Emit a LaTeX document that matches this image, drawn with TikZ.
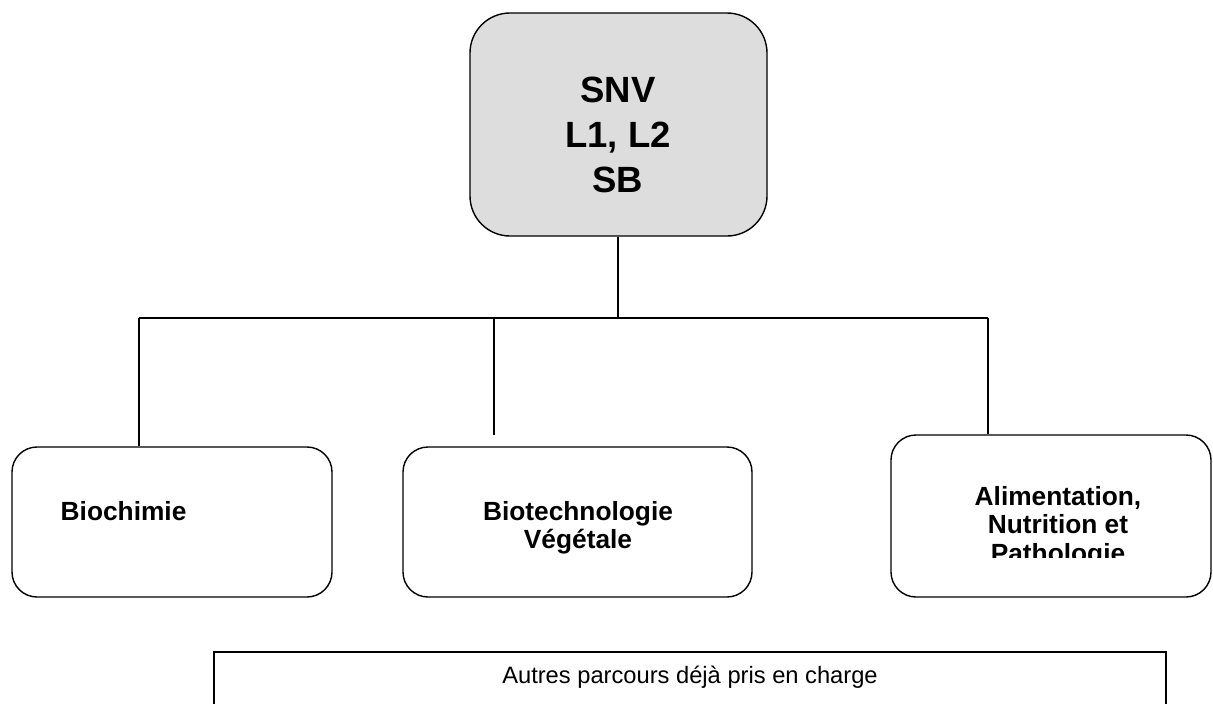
\documentclass[tikz,border=0pt]{standalone}
\usepackage{fontspec}
\setmainfont{Liberation Sans}
\definecolor{boxgray}{HTML}{DDDDDD}
\tikzset{
  rbox/.style={draw=black, line width=1.4pt, rounded corners=#1, inner sep=0pt},
  toptext/.style={font=\fontsize{36.5}{45}\selectfont\bfseries, align=center, inner sep=0pt},
  lbltext/.style={font=\fontsize{26.3}{28.5}\selectfont\bfseries, align=center, inner sep=0pt},
  btmtext/.style={font=\fontsize{23.7}{26}\selectfont, inner sep=0pt},
}
\begin{document}
\begin{tikzpicture}[x=1pt,y=-1pt,line width=1.4pt]
\useasboundingbox (0,0) rectangle (1213,704);
% top box
\node[rbox=40pt, fill=boxgray, minimum width=297pt, minimum height=223pt] (snv) at (618.5,124.5) {};
\node[toptext] (snvt) at (618,135) {SNV\\L1, L2\\SB};
% bottom boxes
\node[rbox=25pt, minimum width=320pt, minimum height=150pt] (b1) at (172,522) {};
\node[lbltext, anchor=base west] (b1t) at (60,520) {Biochimie};
\node[rbox=25pt, minimum width=349pt, minimum height=150pt] (b2) at (577.5,522) {};
\node[lbltext] (b2t) at (578,528) {Biotechnologie\\Végétale};
\node[rbox=25pt, minimum width=320pt, minimum height=162pt] (b3) at (1051,516) {};
\begin{scope}
  \clip (880,420) rectangle (1213,557);
  \node[lbltext] (b3t) at (1058,527) {Alimentation,\\Nutrition et\\Pathologie};
\end{scope}
% connectors
\coordinate (j) at (618,318);
\coordinate (hl) at (139,318);
\coordinate (hm) at (494,318);
\coordinate (hr) at (988,318);
\coordinate (me) at (494,435);
\draw (snv.south -| j) -- (j);
\draw (hl) -- (hr);
\draw (hl) -- (hl |- b1.north);
\draw (hm) -- (me);
\draw (hr) -- (hr |- b3.north);
% bottom open rectangle
\draw (214,740) -- (214,652) -- (1166,652) -- (1166,740);
\node[btmtext] (autres) at (690,677) {Autres parcours déjà pris en charge};
\end{tikzpicture}
\end{document}
